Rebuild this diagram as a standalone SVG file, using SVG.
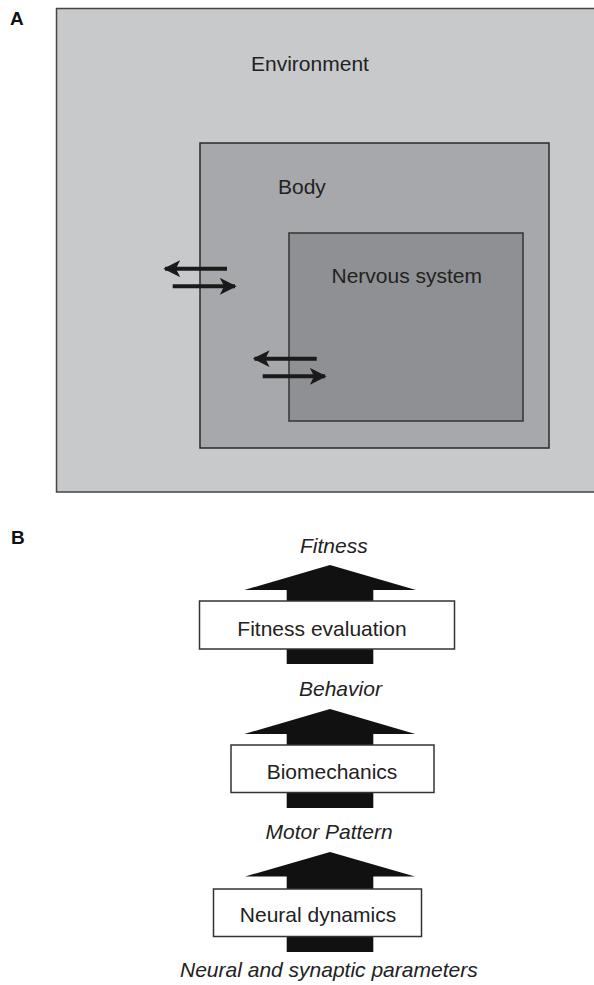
<svg xmlns="http://www.w3.org/2000/svg" width="594" height="985" viewBox="0 0 594 985">
<style>
.lbl{font-family:"Liberation Sans",Arial,sans-serif;font-size:21px;fill:#222}
.it{font-family:"Liberation Sans",Arial,sans-serif;font-size:21px;font-style:italic;fill:#222}
.pl{font-family:"Liberation Sans",Arial,sans-serif;font-size:19px;font-weight:bold;fill:#111}
.box{fill:#fff;stroke:#333;stroke-width:1.5}
.big{fill:#111}
.ln{stroke:#1a1a1a;stroke-width:4;fill:none}
</style>
<defs>
<marker id="ah" viewBox="0 0 10 10" refX="9" refY="5" markerWidth="4.2" markerHeight="4.2" orient="auto" markerUnits="strokeWidth">
<path d="M0,0 L10,5 L0,10 L2.5,5 Z" fill="#1a1a1a"/>
</marker>
</defs>
<text class="pl" x="10" y="25">A</text>
<text class="pl" x="11" y="544">B</text>
<g id="environment">
<rect x="56.5" y="8.5" width="540" height="483.5" fill="#c8c9cb" stroke="#444" stroke-width="1.5"/>
<text class="lbl" x="251" y="71">Environment</text>
</g>
<g id="body">
<rect x="200" y="143" width="349" height="305" fill="#a7a8ab" stroke="#2a2a2a" stroke-width="1.5"/>
<text class="lbl" x="278" y="194">Body</text>
</g>
<g id="nervous">
<rect x="289" y="233" width="234" height="188" fill="#8f9093" stroke="#333" stroke-width="1.5"/>
<text class="lbl" x="331.5" y="283">Nervous system</text>
</g>
<g id="fitness-eval">
<path class="big" d="M330,565 L416,590 L373.3,590 L373.3,664 L286.7,664 L286.7,590 L244.3,590 Z"/>
<rect class="box" x="199.5" y="601" width="255" height="48"/>
<text class="lbl" x="322" y="636" text-anchor="middle">Fitness evaluation</text>
</g>
<g id="biomechanics">
<path class="big" d="M330,709 L415.3,734 L373.3,734 L373.3,808 L286.7,808 L286.7,734 L244.3,734 Z"/>
<rect class="box" x="231" y="745" width="203" height="47.5"/>
<text class="lbl" x="332" y="779" text-anchor="middle">Biomechanics</text>
</g>
<g id="neural">
<path class="big" d="M330,852 L415,876.5 L373.3,876.5 L373.3,952 L286.7,952 L286.7,876.5 L245,876.5 Z"/>
<rect class="box" x="213.5" y="889" width="208" height="47.5"/>
<text class="lbl" x="318" y="922" text-anchor="middle">Neural dynamics</text>
</g>
<g id="labels">
<text class="it" x="300" y="553">Fitness</text>
<text class="it" x="299" y="696">Behavior</text>
<text class="it" x="265.5" y="839">Motor Pattern</text>
<text class="it" x="180" y="977">Neural and synaptic parameters</text>
</g>
<g id="connectors">
<line class="ln" x1="227" y1="268.7" x2="165" y2="268.7" marker-end="url(#ah)"/>
<line class="ln" x1="172.7" y1="286.3" x2="235" y2="286.3" marker-end="url(#ah)"/>
<line class="ln" x1="316.7" y1="358.7" x2="254.5" y2="358.7" marker-end="url(#ah)"/>
<line class="ln" x1="262.7" y1="376.3" x2="325" y2="376.3" marker-end="url(#ah)"/>
</g>
</svg>
